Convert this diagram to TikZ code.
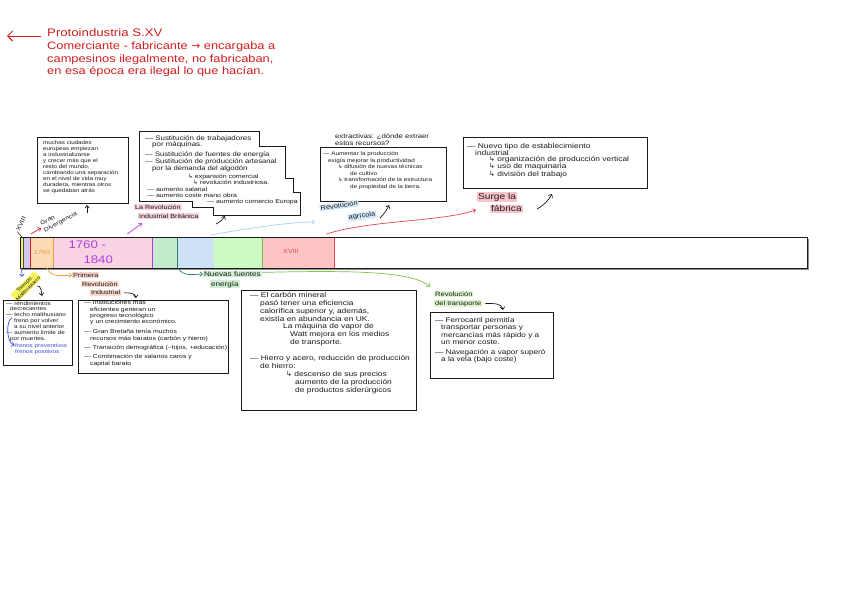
\documentclass[tikz,border=0pt]{standalone}
\usepackage{fontspec}
\setmainfont[FakeStretch=1.2]{Liberation Sans}
\newfontfamily\symf{DejaVu Sans}
\usetikzlibrary{arrows.meta}
\newcommand\hk{{\symf ↳}}
\newcommand\myfs[2]{\fontsize{#1}{#2}\selectfont}
\definecolor{redc}{HTML}{D11E1E}
\definecolor{redc2}{HTML}{E5484D}
\definecolor{purpc}{HTML}{B23CDB}
\definecolor{orangec}{HTML}{EF9B3C}
\definecolor{tealc}{HTML}{2E7D6A}
\definecolor{greenc}{HTML}{78C445}
\definecolor{bluec}{HTML}{3B50D8}
\definecolor{lbluec}{HTML}{A9CFEC}
\definecolor{yelc}{HTML}{F4EE6A}
\definecolor{lilc}{HTML}{D3C8F0}
\definecolor{orac}{HTML}{FCDAB6}
\definecolor{pinkc}{HTML}{F8D3E3}
\definecolor{grnc}{HTML}{C4EBCB}
\definecolor{bluefc}{HTML}{CDE2F7}
\definecolor{lgrc}{HTML}{CBFAC2}
\definecolor{redfc}{HTML}{FEC4C4}
\definecolor{hlY}{HTML}{F7F25A}
\definecolor{hlSal}{HTML}{FBD8CC}
\definecolor{hlPink}{HTML}{F9D3E1}
\definecolor{hlBlue}{HTML}{D3E7F7}
\definecolor{hlRose}{HTML}{F8C4C9}
\definecolor{hlGrn}{HTML}{CFF0D3}
\definecolor{hlLime}{HTML}{DCF5CE}
\definecolor{ink}{HTML}{1A1A1A}
\begin{document}
\begin{tikzpicture}[x=1pt,y=-1pt,
  frame/.style={draw=ink,line width=1.1pt,inner sep=0pt,anchor=north west},
  boxline/.style={draw=ink,line width=1pt},
  txt/.style={anchor=north west,inner sep=0pt,align=left,text=ink},
  hl/.style={anchor=north west,inner sep=0.9pt,align=left,text=ink},
  arr/.style={-{Straight Barb[length=2.5pt,width=4.5pt]},line width=0.7pt},
  seg/.style={anchor=north west,inner sep=0pt,minimum height=31pt,draw=none}
]
\fill[white] (0,0) rectangle (848,598);
\path[use as bounding box] (0,0) rectangle (848,598);

% ---- top red note
\node[txt,anchor=west,text=redc,font={\myfs{11}{12}}] (proto) at (47,33) {Protoindustria S.XV};
\coordinate (protoArrow) at (7,36);
\draw[redc,line width=1pt,-{Straight Barb[length=5pt,width=10pt]}] ([xshift=-6pt,yshift=-3pt]proto.west) -- (protoArrow);
\node[txt,text=redc,font={\myfs{10.7}{12.3}}] (prot2) at (47,42) {Comerciante - fabricante {\symf →} encargaba a\\campesinos ilegalmente, no fabricaban,\\en esa época era ilegal lo que hacían.};

% ---- box 1
\node[frame,minimum width=91pt,minimum height=66pt] (b1) at (37,137) {};
\node[txt,font={\myfs{5.2}{6}}] (t1) at (43,141) {muchas ciudades\\europeas empiezan\\a industrializarse\\y crecer más que el\\resto del mundo,\\cambiando una separación\\en el nivel de vida muy\\duradera, mientras otros\\se quedaban atrás};

% ---- box 2 (stepped)
\draw[boxline] (139,131) -- (259,131) -- (259,146) -- (285,146) -- (285,178) -- (293,178) -- (293,192) -- (300,192) -- (300,215) -- (213,215) -- (213,207) -- (192,207) -- (192,201) -- (139,201) -- cycle;
\coordinate (b2s) at (225,216);
\node[txt,font={\myfs{6.6}{6.6}}] (t2a) at (145,135) {— Sustitución de trabajadores\\\hspace*{7pt}por máquinas.};
\node[txt,font={\myfs{6.4}{6.6}}] (t2b) at (145,152) {— Sustitución de fuentes de energía\\— Sustitución de producción artesanal\\\hspace*{7pt}por la demanda del algodón};
\node[txt,font={\myfs{5.8}{6}}] (t2c) at (188,174) {\hk{} expansión comercial\\\hspace*{5pt}\hk{} revolución industriosa.};
\node[txt,font={\myfs{5.8}{6.2}}] (t2d) at (147,187) {— aumento salarial\\— aumento coste mano obra};
\node[txt,font={\myfs{5.8}{6}}] (t2e) at (207,199.5) {— aumento comercio Europa};

% ---- box 3
\node[txt,font={\myfs{6.4}{7}}] (t3h) at (335,134) {extractivas: ¿dónde extraer\\estos recursos?};
\node[frame,minimum width=126pt,minimum height=54pt] (b3) at (320,147) {};
\node[txt,font={\myfs{5.3}{6.5}}] (t3) at (323,151.5) {— Aumentar la producción\\\hspace*{5pt}exigía mejorar la productividad\\\hspace*{15pt}\hk{} difusión de nuevas técnicas\\\hspace*{27pt}de cultivo\\\hspace*{15pt}\hk{} transformación de la estructura\\\hspace*{27pt}de propiedad de la tierra.};

% ---- box 4
\node[frame,minimum width=184pt,minimum height=51pt] (b4) at (463,137) {};
\node[txt,font={\myfs{7}{6.6}}] (t4) at (467,143.5) {— Nuevo tipo de establecimiento\\\hspace*{8pt}industrial\\\hspace*{22pt}\hk{} organización de producción vertical\\\hspace*{22pt}\hk{} uso de maquinaria\\\hspace*{22pt}\hk{} división del trabajo};

% ---- timeline bar
\fill[black!45] (21,238.5) rectangle (808.5,269.5);
\node[seg,fill=white,minimum width=787pt] (sWhite) at (20,237) {};
\node[seg,fill=yelc,minimum width=3pt] (sYel) at (20,237) {};
\node[seg,fill=lilc,minimum width=7pt] (sLil) at (23,237) {};
\node[seg,fill=orac,minimum width=23pt] (sOra) at (30,237) {};
\node[seg,fill=pinkc,minimum width=99pt] (sPink) at (53,237) {};
\node[seg,fill=grnc,minimum width=25pt] (sGrn) at (152,237) {};
\node[seg,fill=bluefc,minimum width=37pt] (sBlu) at (177,237) {};
\node[seg,fill=lgrc,minimum width=48pt] (sLgr) at (214,237) {};
\node[seg,fill=redfc,minimum width=72pt] (sRed) at (262,237) {};
\draw[black!70,line width=0.5pt] (sYel.north west) rectangle (sYel.south east);
\draw[redc,line width=0.8pt] (sOra.north west) -- (sOra.south west);
\draw[orangec,line width=0.7pt] (sOra.north east) -- (sOra.south east);
\draw[purpc,line width=0.7pt] (sPink.north east) -- (sPink.south east);
\draw[tealc,line width=0.7pt] (sGrn.north east) -- (sGrn.south east);
\draw[greenc,line width=0.7pt] (sLgr.north east) -- (sLgr.south east);
\draw[redc2,line width=0.7pt] (sRed.north east) -- (sRed.south east);
\node[draw=ink,line width=1pt,minimum width=787pt,minimum height=31pt,anchor=north west,inner sep=0pt] (bar) at (20,237) {};
\node[text=orangec,font={\myfs{6}{7}}] (y0) at (42,252) {1760};
\node[text=purpc,font={\myfs{11}{12}},anchor=west] (yA) at (65,245) {1760 -};
\node[text=purpc,font={\myfs{11}{12}},anchor=west] (yB) at (80,260) {1840};
\node[text=redc2,font={\myfs{6}{7}}] (yX) at (291,251) {XVIII};

% ---- labels above bar
\node[rotate=65,font={\myfs{6}{7}},inner sep=0.5pt,text=ink] (lx) at (21,224) {XVIII};
\draw[ink,line width=0.5pt] (lx.west) -- (sYel.north);
\node[rotate=28,align=left,font={\myfs{5.8}{7.4}},inner sep=0.5pt,text=ink] (gd) at (59,219) {Gran\\Divergencia};
\coordinate (gdIn) at (41,228);
\draw[redc,arr] ([xshift=1pt,yshift=3pt]sOra.north west) -- (gdIn);
\draw[ink,arr] ([xshift=4pt,yshift=-9pt]b1.south) -- ([xshift=4pt,yshift=-1pt]b1.south);

\node[hl,fill=hlPink,font={\myfs{6}{6}}] (lb1) at (134,204) {La Revolución};
\node[hl,fill=hlPink,font={\myfs{6}{6}}] (lb2) at (138,212.5) {Industrial Británica};
\draw[purpc,arr] ([xshift=-25pt,yshift=3pt]sPink.north east) -- ([xshift=4pt,yshift=-4pt]lb2.south west);
\coordinate (b2tail) at (216,224);
\draw[ink,arr] (b2tail) to[bend right=15] (b2s);

\node[hl,fill=hlBlue,rotate=8,font={\myfs{6.3}{6.5}}] (ra1) at (319,205) {Revolución};
\node[hl,fill=hlBlue,rotate=8,font={\myfs{6.3}{6.5}}] (ra2) at (347,214) {agrícola};
\coordinate (raIn) at (315,222);
\draw[lbluec,line width=0.9pt,arr] ([xshift=-4pt,yshift=2pt]sBlu.north east) .. controls (250,228) and (290,222) .. (raIn);
\coordinate (b3tail) at (380,218);
\coordinate (b3tip) at (389,205);
\draw[ink,arr] (b3tail) to[bend right=10] (b3tip);

\node[hl,fill=hlRose,font={\myfs{8.5}{9}}] (fab1) at (477,192) {Surge la};
\node[hl,fill=hlRose,font={\myfs{8.5}{9}}] (fab2) at (490,204.5) {fábrica};
\coordinate (fabIn) at (476,210);
\draw[redc2,line width=0.9pt,arr] ([xshift=-8pt,yshift=3pt]sRed.north east) .. controls (370,220) and (440,222) .. (fabIn);
\coordinate (b4tail) at (537,209);
\coordinate (b4tip) at (552,194);
\draw[ink,arr] (b4tail) to[bend right=15] (b4tip);

% ---- labels below bar
\node[hl,fill=hlY,rotate=45,align=center,anchor=center,inner sep=0.6pt,font={\myfs{5}{5.6}}] (tm) at (26,286.5) {Tiempo\\Malthusiano};
\coordinate (tmIn) at (22,277);
\draw[bluec,arr] (sYel.south) -- (tmIn);
\draw[ink,arr] (37,286) to[out=10,in=100] (42,296);

\node[hl,fill=hlSal,font={\myfs{6}{6}}] (pr1) at (72,272) {Primera};
\node[hl,fill=hlSal,font={\myfs{6}{6}}] (pr2) at (81,280.5) {Revolución};
\node[hl,fill=hlSal,font={\myfs{6}{6}}] (pr3) at (90,289.5) {Industrial};
\draw[orangec,arr] ([xshift=-6pt]sOra.south east) to[out=-70,in=180] (pr1.west);
\draw[ink,arr] ([xshift=3pt]pr3.east) to[out=0,in=95] (136,298);

\node[hl,fill=hlGrn,font={\myfs{6.8}{7}}] (nf1) at (203,270.5) {Nuevas fuentes};
\node[hl,fill=hlGrn,font={\myfs{6.8}{7}}] (nf2) at (210,280) {energía};
\draw[tealc,arr] ([xshift=1pt]sGrn.south east) to[out=-60,in=180] (nf1.west);

\node[hl,fill=hlLime,font={\myfs{6.3}{6.5}}] (rt1) at (434,290.5) {Revolución};
\node[hl,fill=hlLime,font={\myfs{6.3}{6.5}}] (rt2) at (434,299.5) {del transporte};
\draw[greenc,line width=0.9pt,arr] ([yshift=-4pt]sLgr.south east) .. controls (360,270) and (412,272) .. ([xshift=-4pt,yshift=4pt]rt1.north west);
\draw[ink,arr] ([xshift=3pt]rt2.east) to[out=0,in=100] (503,310);

% ---- box 5
\node[frame,minimum width=69pt,minimum height=65pt] (b5) at (3,300) {};
\node[txt,font={\myfs{5.3}{5.9}}] (t5) at (6,301) {— rendimientos\\\hspace*{4pt}decrecientes\\— techo malthusiano\\\hspace*{8pt}freno por volver\\\hspace*{8pt}a su nivel anterior\\— aumento límite de\\\hspace*{4pt}por muertes.};
\node[txt,text=bluec,font={\myfs{5.3}{6.8}}] (t5b) at (15,343) {frenos preventivos\\frenos positivos};
\coordinate (braceTop) at (12,318);
\draw[bluec,line width=0.6pt,arr] (braceTop) .. controls (6,320) and (6,342) .. ([xshift=-0.5pt,yshift=-2.5pt]t5b.north west);

% ---- box 6
\node[frame,minimum width=150pt,minimum height=73pt] (b6) at (78,300) {};
\node[txt,font={\myfs{5.7}{6.3}}] (t6a) at (84,300.5) {— Instituciones más\\\hspace*{6pt}eficientes generan un\\\hspace*{6pt}progreso tecnológico\\\hspace*{6pt}y un crecimiento económico.};
\node[txt,font={\myfs{5.7}{6.3}}] (t6b) at (84,329.5) {— Gran Bretaña tenía muchos\\\hspace*{6pt}recursos más baratos (carbón y hierro)};
\node[txt,font={\myfs{5.7}{6.3}}] (t6c) at (84,345.5) {— Transición demográfica (–hijos, +educación)};
\node[txt,font={\myfs{5.7}{6.3}}] (t6d) at (84,354.5) {— Combinación de salarios caros y\\\hspace*{6pt}capital barato};

% ---- box 7
\node[frame,minimum width=175pt,minimum height=120pt] (b7) at (241,290) {};
\node[txt,font={\myfs{7}{7.9}}] (t7a) at (250,292) {— El carbón mineral\\\hspace*{10pt}pasó tener una eficiencia\\\hspace*{10pt}calorífica superior y, además,\\\hspace*{10pt}existía en abundancia en UK.\\\hspace*{33pt}La máquina de vapor de\\\hspace*{40pt}Watt mejora en los medios\\\hspace*{40pt}de transporte.};
\node[txt,font={\myfs{7}{8}}] (t7b) at (250,355) {— Hierro y acero, reducción de producción\\\hspace*{10pt}de hierro:\\\hspace*{36pt}\hk{} descenso de sus precios\\\hspace*{45pt}aumento de la producción\\\hspace*{45pt}de productos siderúrgicos};

% ---- box 8
\node[frame,minimum width=123pt,minimum height=66pt] (b8) at (430,312) {};
\node[txt,font={\myfs{6.8}{7.5}}] (t8) at (435,317) {— Ferrocarril permitía\\\hspace*{6pt}transportar personas y\\\hspace*{6pt}mercancías más rápido y a\\\hspace*{6pt}un menor coste.};
\node[txt,font={\myfs{6.8}{7.5}}] (t8b) at (435,349) {— Navegación a vapor superó\\\hspace*{6pt}a la vela (bajo coste)};
\end{tikzpicture}
\end{document}
